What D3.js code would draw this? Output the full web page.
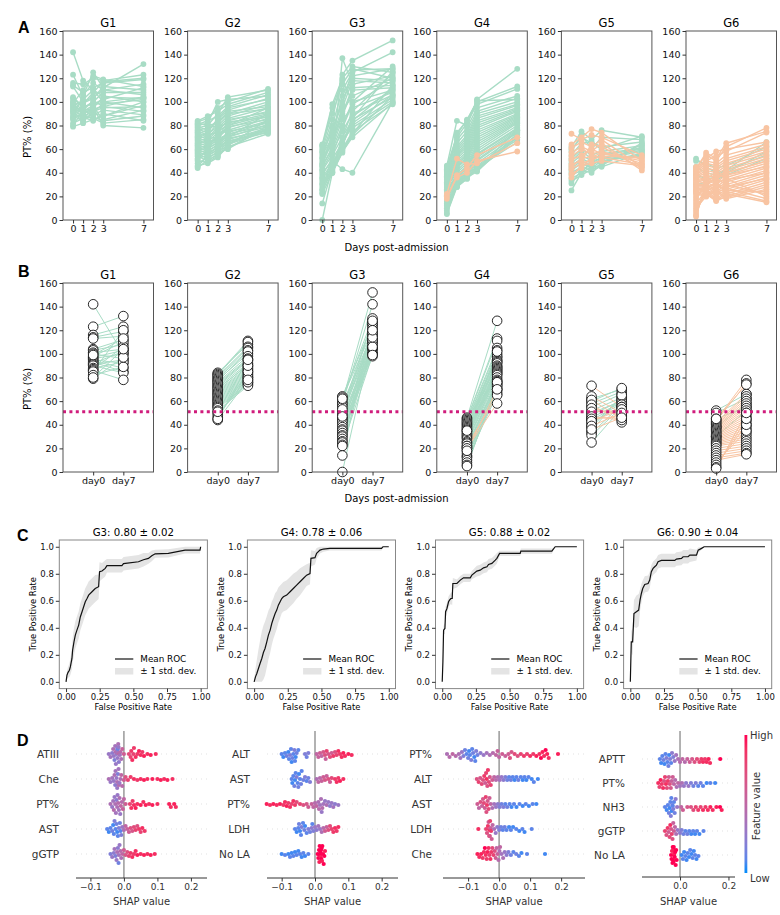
<!DOCTYPE html>
<html><head><meta charset="utf-8">
<script src="https://cdn.jsdelivr.net/npm/d3@7"></script>
<style>body{margin:0;background:#fff}svg{display:block}</style>
</head><body><svg id="c" width="780" height="915"></svg>
<script>
// ---------------- DATA ----------------
const days = [0, 1, 2, 3, 7];
const groupNames = ["G1", "G2", "G3", "G4", "G5", "G6"];
const yTicks = [0, 20, 40, 60, 80, 100, 120, 140, 160];
const bTickLabels = ["day0", "day7"];
const threshold = 51;

const g1Green = [[142,118,110,105,100],[123,105,125,112,132],[116,115,120,118,123],[114,108,112,116,119],[113,100,104,110,115],[104,96,98,102,112],[103,95,100,108,108],[101,92,97,100,104],[100,88,92,95,96],[98,99,103,113,110],[97,92,95,104,103],[96,85,90,88,100],[95,90,94,96,92],[94,94,87,84,88],[93,88,86,82,85],[92,83,92,98,102],[91,102,110,100,95],[90,87,84,90,84],[88,84,96,85,93],[87,106,116,110,106],[86,90,95,80,78],[85,98,108,117,120],[82,86,89,93,89],[79,82,85,88,97],[80,93,101,96,104],[99,110,122,119,113]];
const g1Orange = [];
const g2Green = [[84,88,92,98,108],[83,86,95,100,111],[82,80,90,104,110],[81,84,88,96,106],[80,82,100,102,105],[79,76,85,93,103],[78,80,82,90,100],[77,74,86,95,102],[76,78,80,88,98],[75,72,82,92,96],[74,70,78,86,95],[73,76,84,90,94],[72,68,76,84,92],[71,73,79,82,90],[70,66,74,85,91],[69,71,75,80,89],[68,64,72,78,88],[67,69,70,83,87],[66,62,71,76,86],[65,67,68,79,85],[64,60,66,74,84],[63,65,69,72,83],[62,58,64,75,82],[61,63,67,70,81],[60,56,62,73,80],[59,61,65,71,79],[58,54,60,68,78],[57,59,63,66,77],[56,52,58,69,76],[55,57,61,64,75],[54,50,56,67,74],[52,55,59,62,73],[50,49,54,65,76],[48,53,57,60,80],[46,48,53,63,85],[44,51,55,61,78],[45,55,62,70,90],[51,60,70,80,95]];
const g2Orange = [];
const g3Green = [[64,98,120,130,125],[63,90,115,128,120],[60,85,123,135,152],[58,80,110,125,142],[57,75,100,120,118],[55,70,95,118,116],[52,68,90,112,114],[50,65,88,110,112],[48,72,105,122,128],[46,60,80,100,110],[45,62,85,95,108],[43,58,75,90,106],[42,55,70,85,104],[40,50,43,40,100],[38,52,65,80,102],[36,48,137,115,122],[35,45,68,78,100],[33,42,60,75,98],[31,40,57,72,105],[30,47,62,88,110],[28,44,70,92,124],[26,41,66,84,112],[25,55,78,98,118],[23,46,64,82,106],[22,40,58,70,99],[14,43,63,86,126],[0,40,59,73,114],[62,95,118,100,130],[53,78,98,127,128],[47,67,92,105,120]];
const g3Orange = [];
const g4Green = [[46,84,80,102,128],[45,72,85,100,113],[44,70,82,98,111],[43,68,78,95,105],[42,65,75,92,103],[41,62,72,90,100],[40,60,70,88,98],[39,58,68,86,97],[38,56,66,84,95],[37,55,64,82,94],[36,54,62,80,93],[35,52,60,78,92],[34,50,58,76,90],[33,48,56,74,89],[32,46,55,72,88],[31,45,53,70,87],[30,44,52,68,86],[29,42,50,66,85],[28,40,48,64,84],[26,38,46,62,83],[25,37,45,60,82],[24,36,44,58,80],[22,35,42,56,78],[21,34,41,55,77],[20,33,40,53,76],[18,32,39,51,75],[16,31,38,50,74],[14,30,37,48,72],[13,29,36,46,70],[12,28,35,45,68],[10,32,40,44,66],[8,30,38,42,70],[6,29,36,41,73],[5,28,35,43,76],[35,74,84,101,102]];
const g4Orange = [[22,52,47,48,65],[20,36,40,50,58],[18,38,44,55,70]];
const g5Green = [[62,75,68,76,70],[58,72,60,70,68],[55,65,66,62,66],[52,60,55,58,63],[50,58,52,55,60],[48,55,50,56,61],[46,52,48,53,59],[44,50,46,52,58],[42,48,44,50,56],[40,45,42,48,62],[38,42,40,47,64],[35,40,45,46,65],[33,38,43,45,57],[31,42,47,50,55],[25,40,50,52,54],[60,70,65,60,71]];
const g5Orange = [[73,68,72,70,55],[64,70,77,74,50],[61,66,62,68,45],[57,62,58,65,42],[54,60,56,58,48],[51,55,60,56,52],[47,50,64,62,44],[45,52,54,53,47],[43,48,51,54,53],[39,44,53,57,50],[36,46,48,50,46]];
const g6Green = [[52,45,40,42,66],[50,48,44,46,62],[45,40,38,42,55],[38,35,36,40,58],[30,32,34,38,52]];
const g6Orange = [[44,55,50,62,78],[43,57,52,65,75],[42,52,58,60,66],[41,50,48,55,64],[40,48,46,52,62],[39,46,44,50,60],[38,44,42,48,58],[37,42,40,46,56],[36,40,38,44,54],[35,38,36,42,52],[34,36,34,40,50],[33,35,32,38,48],[32,34,30,36,46],[31,32,28,34,44],[30,30,26,32,42],[29,29,24,30,40],[28,28,22,28,38],[27,26,20,26,36],[26,25,18,24,34],[25,24,17,22,32],[24,22,16,20,30],[23,21,18,19,28],[22,20,25,18,26],[20,28,30,25,24],[18,30,35,30,22],[16,35,40,35,20],[14,25,28,27,18],[12,22,26,24,16],[10,20,24,22,15],[8,24,30,28,35],[6,26,32,34,40],[4,30,36,38,45],[3,32,38,40,50],[45,50,54,58,74]];

// ROC: [fpr, mean tpr, std]
const rocTitles = ["G3: 0.80 ± 0.02", "G4: 0.78 ± 0.06", "G5: 0.88 ± 0.02", "G6: 0.90 ± 0.04"];
const rocG3 = [[0,0,0.02],[0.007,0.05,0.03],[0.015,0.07,0.04],[0.025,0.086,0.05],[0.032,0.11,0.06],[0.044,0.173,0.08],[0.049,0.235,0.09],[0.059,0.296,0.1],[0.069,0.346,0.1],[0.081,0.383,0.1],[0.094,0.42,0.1],[0.106,0.48,0.1],[0.119,0.519,0.1],[0.131,0.556,0.1],[0.143,0.593,0.1],[0.156,0.617,0.1],[0.168,0.642,0.1],[0.193,0.667,0.1],[0.217,0.691,0.1],[0.242,0.704,0.09],[0.249,0.815,0.07],[0.267,0.82,0.06],[0.291,0.84,0.06],[0.304,0.86,0.05],[0.415,0.86,0.05],[0.427,0.875,0.05],[0.538,0.889,0.05],[0.575,0.904,0.05],[0.612,0.914,0.04],[0.637,0.933,0.04],[0.662,0.948,0.03],[0.76,0.951,0.03],[0.884,0.975,0.025],[0.995,0.975,0.025],[1,1,0]];
const rocG4 = [[0,0,0.02],[0.01,0.037,0.06],[0.02,0.062,0.1],[0.032,0.099,0.14],[0.044,0.136,0.17],[0.057,0.173,0.2],[0.069,0.217,0.2],[0.081,0.247,0.2],[0.094,0.296,0.19],[0.106,0.346,0.18],[0.119,0.383,0.17],[0.131,0.432,0.16],[0.143,0.469,0.15],[0.156,0.506,0.15],[0.168,0.531,0.14],[0.18,0.568,0.13],[0.193,0.593,0.12],[0.205,0.617,0.11],[0.217,0.63,0.11],[0.242,0.642,0.11],[0.267,0.667,0.11],[0.291,0.691,0.11],[0.316,0.716,0.1],[0.341,0.741,0.1],[0.365,0.765,0.09],[0.39,0.79,0.08],[0.415,0.802,0.08],[0.422,0.914,0.06],[0.452,0.919,0.05],[0.464,0.951,0.04],[0.489,0.975,0.025],[0.514,0.983,0.02],[0.563,0.988,0.015],[0.946,0.988,0.015],[0.957,1,0],[1,1,0]];
const rocG5 = [[0,0,0.01],[0.005,0.148,0.03],[0.01,0.383,0.03],[0.02,0.395,0.04],[0.025,0.519,0.04],[0.035,0.543,0.04],[0.047,0.593,0.04],[0.054,0.605,0.04],[0.064,0.617,0.04],[0.074,0.617,0.05],[0.079,0.728,0.04],[0.109,0.728,0.03],[0.134,0.753,0.03],[0.158,0.77,0.03],[0.208,0.77,0.03],[0.22,0.79,0.03],[0.257,0.82,0.04],[0.282,0.827,0.04],[0.307,0.844,0.04],[0.332,0.852,0.04],[0.344,0.869,0.04],[0.369,0.877,0.04],[0.394,0.901,0.04],[0.406,0.914,0.04],[0.426,0.951,0.02],[0.579,0.951,0.02],[0.584,0.968,0.02],[0.814,0.968,0.02],[0.839,1,0],[1,1,0]];
const rocG6 = [[0,0,0.01],[0.007,0.296,0.08],[0.017,0.296,0.1],[0.027,0.506,0.1],[0.045,0.519,0.12],[0.062,0.531,0.12],[0.072,0.605,0.08],[0.082,0.654,0.07],[0.092,0.691,0.06],[0.107,0.721,0.06],[0.132,0.728,0.06],[0.144,0.753,0.06],[0.156,0.815,0.05],[0.169,0.84,0.05],[0.181,0.852,0.05],[0.194,0.864,0.05],[0.206,0.889,0.05],[0.231,0.899,0.05],[0.33,0.899,0.05],[0.342,0.909,0.05],[0.38,0.914,0.05],[0.392,0.926,0.05],[0.429,0.926,0.05],[0.442,0.938,0.05],[0.491,0.938,0.04],[0.504,0.975,0.02],[0.529,0.988,0.01],[0.548,1,0],[1,1,0]];
const rocXTicks = [0, 0.25, 0.5, 0.75, 1];
const rocYTicks = [0, 0.2, 0.4, 0.6, 0.8, 1];

// SHAP: features and per-row points [shap value, normalized feature value]
const shapG3Features = ["ATIII", "Che", "PT%", "AST", "gGTP"];
const shapG3 = [
 [[-0.045,0.3],[-0.04,0.35],[-0.035,0.25],[-0.032,0.4],[-0.03,0.3],[-0.028,0.2],[-0.026,0.35],[-0.025,0.45],[-0.024,0.3],[-0.022,0.25],[-0.021,0.4],[-0.02,0.2],[-0.02,0.35],[-0.019,0.3],[-0.018,0.15],[-0.017,0.4],[-0.016,0.3],[-0.015,0.25],[-0.014,0.5],[-0.012,0.35],[-0.01,0.45],[-0.008,0.4],[-0.005,0.55],[0.0,0.6],[0.015,0.75],[0.02,0.8],[0.022,0.85],[0.025,0.9],[0.028,0.8],[0.03,0.85],[0.035,0.9],[0.04,0.85],[0.045,0.95],[0.05,0.9],[0.055,0.85],[0.06,0.95],[0.07,0.9],[0.08,0.95],[0.095,0.9]],
 [[-0.045,0.4],[-0.04,0.3],[-0.035,0.35],[-0.03,0.3],[-0.028,0.4],[-0.026,0.25],[-0.025,0.35],[-0.022,0.3],[-0.02,0.4],[-0.02,0.3],[-0.018,0.2],[-0.016,0.35],[-0.015,0.45],[-0.013,0.3],[-0.01,0.4],[-0.008,0.5],[-0.005,0.45],[0.0,0.6],[0.005,0.7],[0.012,0.8],[0.02,0.85],[0.03,0.9],[0.04,0.85],[0.05,0.9],[0.06,0.95],[0.07,0.9],[0.085,0.95],[0.1,0.9],[0.11,0.95],[0.12,0.9],[0.13,0.95],[0.145,0.9]],
 [[-0.04,0.4],[-0.035,0.3],[-0.032,0.35],[-0.03,0.45],[-0.028,0.3],[-0.026,0.4],[-0.024,0.35],[-0.022,0.25],[-0.02,0.4],[-0.019,0.3],[-0.017,0.45],[-0.015,0.35],[-0.013,0.4],[-0.011,0.3],[-0.009,0.5],[-0.006,0.45],[-0.003,0.55],[0.0,0.5],[0.005,0.6],[0.018,0.8],[0.022,0.9],[0.026,0.85],[0.03,0.9],[0.035,0.95],[0.04,0.9],[0.05,0.95],[0.058,0.9],[0.065,0.95],[0.075,0.9],[0.085,0.95],[0.1,0.9],[0.135,0.95],[0.14,0.9],[0.15,0.95],[0.155,0.9]],
 [[-0.05,0.1],[-0.045,0.05],[-0.04,0.1],[-0.035,0.15],[-0.032,0.05],[-0.03,0.1],[-0.028,0.2],[-0.025,0.1],[-0.022,0.15],[-0.02,0.05],[-0.018,0.1],[-0.015,0.2],[-0.012,0.15],[-0.01,0.1],[-0.008,0.2],[-0.005,0.3],[0.0,0.4],[0.005,0.5],[0.01,0.55],[0.015,0.6],[0.02,0.7],[0.025,0.65],[0.03,0.75],[0.035,0.8],[0.04,0.7],[0.045,0.85],[0.05,0.8],[0.055,0.9],[0.062,0.85]],
 [[-0.04,0.2],[-0.035,0.3],[-0.03,0.25],[-0.028,0.35],[-0.025,0.2],[-0.022,0.3],[-0.02,0.4],[-0.018,0.25],[-0.016,0.15],[-0.015,0.35],[-0.013,0.3],[-0.01,0.45],[-0.008,0.4],[-0.005,0.5],[0.0,0.6],[0.005,0.65],[0.01,0.7],[0.015,0.8],[0.02,0.85],[0.025,0.9],[0.03,0.85],[0.035,0.9],[0.04,0.95],[0.05,0.9],[0.06,0.95],[0.07,0.9],[0.08,0.95],[0.092,0.9]]
];
const shapG4Features = ["ALT", "AST", "PT%", "LDH", "No LA"];
const shapG4 = [
 [[-0.1,0.1],[-0.095,0.05],[-0.09,0.1],[-0.085,0.15],[-0.08,0.05],[-0.078,0.1],[-0.075,0.2],[-0.072,0.1],[-0.07,0.05],[-0.068,0.15],[-0.065,0.1],[-0.062,0.2],[-0.06,0.1],[-0.058,0.05],[-0.055,0.15],[-0.05,0.1],[-0.03,0.2],[-0.025,0.15],[-0.02,0.2],[0.005,0.5],[0.01,0.55],[0.015,0.6],[0.02,0.5],[0.025,0.65],[0.03,0.7],[0.032,0.55],[0.035,0.8],[0.04,0.65],[0.045,0.75],[0.05,0.6],[0.055,0.85],[0.06,0.7],[0.065,0.8],[0.07,0.9],[0.075,0.85],[0.08,0.9],[0.085,0.95],[0.09,0.9],[0.1,0.95],[0.11,0.9]],
 [[-0.07,0.1],[-0.068,0.05],[-0.065,0.1],[-0.062,0.15],[-0.06,0.05],[-0.058,0.1],[-0.055,0.2],[-0.052,0.1],[-0.05,0.15],[-0.048,0.05],[-0.045,0.1],[-0.042,0.15],[-0.04,0.1],[-0.035,0.15],[-0.03,0.2],[-0.025,0.1],[-0.02,0.15],[-0.015,0.2],[0.005,0.4],[0.01,0.5],[0.015,0.45],[0.02,0.55],[0.025,0.6],[0.03,0.65],[0.035,0.55],[0.04,0.7],[0.045,0.6],[0.05,0.75],[0.06,0.85],[0.065,0.9],[0.07,0.85],[0.075,0.95],[0.085,0.9]],
 [[-0.145,0.95],[-0.135,0.9],[-0.125,0.95],[-0.115,0.9],[-0.105,0.95],[-0.095,0.85],[-0.09,0.9],[-0.085,0.95],[-0.08,0.85],[-0.075,0.9],[-0.07,0.8],[-0.065,0.9],[-0.06,0.85],[-0.055,0.75],[-0.045,0.8],[-0.035,0.7],[-0.025,0.65],[-0.02,0.6],[-0.01,0.55],[-0.005,0.5],[0.0,0.45],[0.005,0.5],[0.01,0.4],[0.012,0.45],[0.015,0.35],[0.018,0.4],[0.02,0.3],[0.022,0.45],[0.025,0.35],[0.03,0.3],[0.035,0.4],[0.04,0.3],[0.045,0.25],[0.05,0.3],[0.055,0.35],[0.06,0.25],[0.07,0.3]],
 [[-0.06,0.1],[-0.055,0.05],[-0.05,0.1],[-0.048,0.15],[-0.045,0.05],[-0.042,0.1],[-0.04,0.2],[-0.036,0.1],[-0.032,0.15],[-0.03,0.05],[-0.025,0.1],[-0.02,0.2],[-0.015,0.15],[-0.01,0.25],[-0.008,0.1],[-0.005,0.2],[0.0,0.3],[0.005,0.25],[0.01,0.35],[0.015,0.3],[0.02,0.4],[0.025,0.45],[0.03,0.6],[0.035,0.55],[0.04,0.7],[0.045,0.75],[0.05,0.8],[0.055,0.85],[0.06,0.9],[0.065,0.85],[0.07,0.9]],
 [[-0.1,0.05],[-0.09,0.1],[-0.08,0.05],[-0.075,0.1],[-0.07,0.05],[-0.065,0.1],[-0.06,0.05],[-0.055,0.1],[-0.05,0.05],[-0.045,0.1],[-0.04,0.05],[-0.035,0.1],[-0.03,0.05],[-0.02,0.1],[0.008,1],[0.01,1],[0.012,1],[0.013,0.95],[0.014,1],[0.015,1],[0.016,1],[0.017,0.95],[0.018,1],[0.019,1],[0.02,1],[0.021,0.95],[0.022,1],[0.024,1],[0.026,1],[0.028,1],[0.03,0.95]]
];
const shapG5Features = ["PT%", "ALT", "AST", "LDH", "Che"];
const shapG5 = [
 [[-0.168,0.4],[-0.16,0.45],[-0.15,0.5],[-0.14,0.45],[-0.13,0.4],[-0.125,0.35],[-0.12,0.3],[-0.115,0.2],[-0.11,0.15],[-0.105,0.1],[-0.1,0.15],[-0.097,0.05],[-0.094,0.1],[-0.09,0.2],[-0.087,0.1],[-0.084,0.15],[-0.08,0.05],[-0.077,0.1],[-0.074,0.2],[-0.07,0.15],[-0.06,0.25],[-0.05,0.3],[-0.04,0.35],[-0.03,0.4],[-0.02,0.45],[-0.01,0.5],[-0.005,0.55],[0.0,0.5],[0.01,0.6],[0.02,0.55],[0.03,0.6],[0.035,0.7],[0.04,0.65],[0.05,0.75],[0.06,0.7],[0.07,0.8],[0.08,0.85],[0.09,0.8],[0.1,0.9],[0.11,0.85],[0.12,0.95],[0.13,0.9],[0.135,1],[0.14,0.95],[0.145,0.9],[0.15,1],[0.155,0.95],[0.16,0.9],[0.19,0.95]],
 [[-0.072,0.7],[-0.066,0.8],[-0.061,0.65],[-0.056,0.75],[-0.052,0.7],[-0.048,0.85],[-0.045,0.6],[-0.042,0.8],[-0.04,0.9],[-0.038,0.7],[-0.036,0.85],[-0.033,0.75],[-0.03,0.65],[-0.027,0.8],[-0.022,0.6],[-0.016,0.5],[-0.01,0.45],[-0.004,0.4],[0.002,0.35],[0.008,0.3],[0.014,0.25],[0.02,0.2],[0.026,0.15],[0.032,0.1],[0.038,0.15],[0.044,0.1],[0.05,0.05],[0.056,0.1],[0.062,0.15],[0.07,0.1],[0.076,0.05],[0.082,0.1],[0.088,0.05],[0.095,0.1],[0.105,0.05],[0.112,0.1],[0.125,0.05]],
 [[-0.07,0.6],[-0.065,0.5],[-0.06,0.7],[-0.055,0.55],[-0.052,0.65],[-0.049,0.75],[-0.046,0.6],[-0.043,0.8],[-0.041,0.7],[-0.039,0.85],[-0.037,0.65],[-0.034,0.75],[-0.031,0.6],[-0.027,0.5],[-0.022,0.4],[-0.016,0.35],[-0.01,0.3],[-0.004,0.25],[0.002,0.2],[0.008,0.15],[0.014,0.2],[0.02,0.1],[0.026,0.15],[0.034,0.1],[0.04,0.05],[0.048,0.1],[0.056,0.05],[0.066,0.1],[0.076,0.05],[0.086,0.1],[0.096,0.05],[0.108,0.1],[0.12,0.05]],
 [[-0.067,0.9],[-0.042,0.8],[-0.039,0.7],[-0.036,0.85],[-0.034,0.6],[-0.032,0.75],[-0.031,0.9],[-0.03,0.65],[-0.029,0.8],[-0.028,0.7],[-0.027,0.55],[-0.026,0.85],[-0.024,0.6],[-0.021,0.5],[-0.016,0.4],[-0.011,0.3],[-0.006,0.25],[0.0,0.2],[0.006,0.15],[0.012,0.1],[0.018,0.15],[0.024,0.1],[0.032,0.05],[0.038,0.1],[0.045,0.05],[0.055,0.1],[0.065,0.05],[0.075,0.1],[0.082,0.05],[0.105,0.1]],
 [[-0.07,0.95],[-0.064,0.9],[-0.058,0.95],[-0.053,0.85],[-0.049,0.9],[-0.046,1],[-0.043,0.9],[-0.04,0.85],[-0.037,0.95],[-0.034,0.9],[-0.031,0.8],[-0.028,0.9],[-0.025,0.85],[-0.022,0.75],[-0.018,0.8],[-0.014,0.7],[-0.011,0.6],[-0.008,0.5],[-0.005,0.55],[-0.002,0.45],[0.001,0.4],[0.003,0.5],[0.008,0.35],[0.013,0.4],[0.018,0.3],[0.024,0.25],[0.03,0.2],[0.038,0.15],[0.046,0.1],[0.055,0.15],[0.064,0.1],[0.072,0.05],[0.09,0.1],[0.148,0.05]]
];
const shapG6Features = ["APTT", "PT%", "NH3", "gGTP", "No LA"];
const shapG6 = [
 [[-0.083,0.1],[-0.078,0.05],[-0.073,0.1],[-0.068,0.15],[-0.064,0.05],[-0.06,0.1],[-0.056,0.2],[-0.052,0.1],[-0.048,0.15],[-0.045,0.05],[-0.041,0.2],[-0.037,0.1],[-0.033,0.25],[-0.028,0.2],[-0.022,0.3],[-0.016,0.35],[-0.008,0.4],[0.0,0.45],[0.01,0.5],[0.02,0.45],[0.03,0.55],[0.04,0.6],[0.05,0.65],[0.06,0.7],[0.07,0.75],[0.08,0.8],[0.088,0.85],[0.095,0.9],[0.103,0.85],[0.11,0.9],[0.118,0.95],[0.124,0.9],[0.166,1]],
 [[-0.09,0.9],[-0.085,0.8],[-0.08,0.95],[-0.075,0.85],[-0.07,0.9],[-0.066,0.7],[-0.062,0.8],[-0.058,0.9],[-0.054,0.75],[-0.05,0.85],[-0.046,0.6],[-0.042,0.7],[-0.038,0.65],[-0.034,0.55],[-0.03,0.6],[-0.025,0.5],[-0.02,0.45],[-0.014,0.4],[-0.008,0.5],[0.0,0.35],[0.008,0.4],[0.016,0.3],[0.025,0.25],[0.035,0.3],[0.045,0.2],[0.055,0.15],[0.065,0.2],[0.075,0.1],[0.085,0.15],[0.095,0.1],[0.11,0.05],[0.125,0.1],[0.145,0.05]],
 [[-0.062,0.1],[-0.055,0.05],[-0.05,0.1],[-0.046,0.15],[-0.043,0.05],[-0.04,0.1],[-0.038,0.2],[-0.036,0.1],[-0.034,0.05],[-0.032,0.15],[-0.03,0.1],[-0.028,0.2],[-0.025,0.1],[-0.022,0.15],[-0.018,0.25],[-0.012,0.3],[0.005,0.5],[0.012,0.6],[0.03,0.65],[0.045,0.7],[0.055,0.75],[0.065,0.8],[0.075,0.85],[0.085,0.8],[0.095,0.9],[0.105,0.85],[0.115,0.9],[0.125,0.95],[0.135,0.9],[0.15,0.95],[0.165,1],[0.172,0.95]],
 [[-0.062,0.8],[-0.056,0.7],[-0.051,0.85],[-0.047,0.6],[-0.043,0.75],[-0.04,0.9],[-0.037,0.65],[-0.034,0.8],[-0.031,0.7],[-0.028,0.55],[-0.025,0.6],[-0.021,0.5],[-0.016,0.4],[-0.01,0.3],[0.0,0.25],[0.007,0.2],[0.014,0.15],[0.022,0.1],[0.03,0.15],[0.038,0.1],[0.046,0.05],[0.054,0.1],[0.062,0.05],[0.07,0.1],[0.08,0.05],[0.097,0.1]],
 [[-0.037,1],[-0.035,1],[-0.033,0.95],[-0.031,1],[-0.03,1],[-0.029,1],[-0.028,0.95],[-0.027,1],[-0.026,1],[-0.025,1],[-0.024,0.95],[-0.022,1],[-0.02,1],[-0.018,1],[-0.016,1],[-0.014,1],[0.007,0.05],[0.012,0.1],[0.017,0.05],[0.022,0.1],[0.027,0.05],[0.032,0.1],[0.037,0.05],[0.042,0.1],[0.047,0.05],[0.052,0.1],[0.057,0.05],[0.062,0.1],[0.068,0.05],[0.076,0.1]]
];
const shapTicksWide = [-0.1, 0, 0.1, 0.2];
const shapTicksNarrow = [0, 0.2];

// ---------------- DRAWING ----------------
const FONT = "DejaVu Sans, sans-serif";
const svg = d3.select("#c").attr("font-family", FONT);
const green = "#a8dcc5", orange = "#f8c4a2";
const groupData = [[g1Green,g1Orange],[g2Green,g2Orange],[g3Green,g3Orange],[g4Green,g4Orange],[g5Green,g5Orange],[g6Green,g6Orange]];
const aLefts = d3.range(6).map(i => 63 + i * 124.6);
const panW = 90.5;

function styleAxis(sel, fs) {
  sel.attr("font-family", FONT);
  sel.select(".domain").remove();
  sel.selectAll(".tick line").attr("stroke", "#333");
  sel.selectAll(".tick text").attr("font-size", fs).attr("fill", "#111");
}
function letter(t, x, y) {
  svg.append("text").attr("x", x).attr("y", y).attr("font-family", "Liberation Sans, Arial, sans-serif")
    .attr("font-weight", "bold").attr("font-size", 16).text(t);
}

// Panel A
letter("A", 18, 32.5);
groupNames.forEach((name, i) => {
  const g = svg.append("g").attr("transform", `translate(${aLefts[i]},0)`);
  const x = d3.scaleLinear().domain([-1, 8]).range([0, panW]);
  const y = d3.scaleLinear().domain([0, 160]).range([220, 31]);
  const line = d3.line().x((d, j) => x(days[j])).y(d => y(d));
  const [gr, or] = groupData[i];
  [[gr, green], [or, orange]].forEach(([set, col]) => {
    g.append("g").selectAll("path").data(set).join("path").attr("d", line)
      .attr("fill", "none").attr("stroke", col).attr("stroke-width", 1.4);
    g.append("g").selectAll("circle").data(set.flatMap(s => s.map((v, j) => [days[j], v]))).join("circle")
      .attr("cx", d => x(d[0])).attr("cy", d => y(d[1])).attr("r", 2.9).attr("fill", col);
  });
  g.append("rect").attr("x", 0).attr("y", 31).attr("width", panW).attr("height", 189)
    .attr("fill", "none").attr("stroke", "#555").attr("stroke-width", 1);
  const ya = g.append("g").call(d3.axisLeft(y).tickValues(yTicks).tickSize(3.5).tickPadding(2));
  styleAxis(ya, 9.5);
  const xa = g.append("g").attr("transform", "translate(0,220)").call(d3.axisBottom(x).tickValues(days).tickSize(3.5).tickPadding(2));
  styleAxis(xa, 9.5);
  g.append("text").attr("x", panW / 2).attr("y", 27).attr("text-anchor", "middle").attr("font-size", 11.5).text(name);
});
svg.append("text").attr("transform", "translate(31,137) rotate(-90)").attr("text-anchor", "middle").attr("font-size", 10).text("PT% (%)");
svg.append("text").attr("x", 396.5).attr("y", 251).attr("text-anchor", "middle").attr("font-size", 10).text("Days post-admission");

// Panel B
letter("B", 18, 277);
groupNames.forEach((name, i) => {
  const g = svg.append("g").attr("transform", `translate(${aLefts[i]},0)`);
  const x = d3.scaleLinear().domain([-1, 2]).range([0, panW]);
  const y = d3.scaleLinear().domain([0, 160]).range([472, 283]);
  const [gr, or] = groupData[i];
  [[gr, green], [or, orange]].forEach(([set, col]) => {
    g.append("g").selectAll("line").data(set).join("line")
      .attr("x1", x(0)).attr("x2", x(1)).attr("y1", d => y(d[0])).attr("y2", d => y(d[d.length - 1]))
      .attr("stroke", col).attr("stroke-width", 1);
  });
  const all = gr.concat(or);
  const pts = all.flatMap(s => [[0, s[0]], [1, s[s.length - 1]]]);
  g.append("g").selectAll("circle").data(pts).join("circle")
    .attr("cx", d => x(d[0])).attr("cy", d => y(d[1])).attr("r", 4.8)
    .attr("fill", "#fff").attr("stroke", "#111").attr("stroke-width", 0.9);
  g.append("line").attr("x1", 0).attr("x2", panW).attr("y1", y(threshold)).attr("y2", y(threshold))
    .attr("stroke", "#d01c7c").attr("stroke-width", 3).attr("stroke-dasharray", "3,3.4");
  g.append("rect").attr("x", 0).attr("y", 283).attr("width", panW).attr("height", 189)
    .attr("fill", "none").attr("stroke", "#555").attr("stroke-width", 1);
  const ya = g.append("g").call(d3.axisLeft(y).tickValues(yTicks).tickSize(3.5).tickPadding(2));
  styleAxis(ya, 9.5);
  const xa = g.append("g").attr("transform", "translate(0,472)")
    .call(d3.axisBottom(x).tickValues([0, 1]).tickFormat((d, k) => bTickLabels[k]).tickSize(3.5).tickPadding(2));
  styleAxis(xa, 9.5);
  g.append("text").attr("x", panW / 2).attr("y", 279).attr("text-anchor", "middle").attr("font-size", 11.5).text(name);
});
svg.append("text").attr("transform", "translate(31,389) rotate(-90)").attr("text-anchor", "middle").attr("font-size", 10).text("PT% (%)");
svg.append("text").attr("x", 396.5).attr("y", 502).attr("text-anchor", "middle").attr("font-size", 10).text("Days post-admission");

// Panel C
letter("C", 17, 541);
const rocSets = [rocG3, rocG4, rocG5, rocG6];
const cLefts = d3.range(4).map(i => 59.3 + i * 188.1);
const cW = 148.1, cTop = 540, cBot = 688.6;
rocSets.forEach((roc, i) => {
  const g = svg.append("g").attr("transform", `translate(${cLefts[i]},0)`);
  const x = d3.scaleLinear().domain([-0.05, 1.05]).range([0, cW]);
  const y = d3.scaleLinear().domain([-0.05, 1.05]).range([cBot, cTop]);
  const area = d3.area().x(d => x(d[0])).y0(d => y(Math.max(0, d[1] - d[2]))).y1(d => y(Math.min(1, d[1] + d[2])));
  g.append("path").datum(roc).attr("d", area).attr("fill", "#e4e4e4");
  g.append("path").datum(roc).attr("d", d3.line().x(d => x(d[0])).y(d => y(d[1])))
    .attr("fill", "none").attr("stroke", "#111").attr("stroke-width", 1.2);
  g.append("rect").attr("x", 0).attr("y", cTop).attr("width", cW).attr("height", cBot - cTop)
    .attr("fill", "none").attr("stroke", "#888").attr("stroke-width", 1);
  const ya = g.append("g").call(d3.axisLeft(y).tickValues(rocYTicks).tickFormat(d3.format(".1f")).tickSize(3.5).tickPadding(2));
  styleAxis(ya, 8.5);
  const xa = g.append("g").attr("transform", `translate(0,${cBot})`)
    .call(d3.axisBottom(x).tickValues(rocXTicks).tickFormat(d3.format(".2f")).tickSize(3.5).tickPadding(2));
  styleAxis(xa, 8.5);
  g.append("text").attr("x", cW / 2).attr("y", 536).attr("text-anchor", "middle").attr("font-size", 10.2).text(rocTitles[i]);
  g.append("text").attr("x", cW / 2).attr("y", 709.5).attr("text-anchor", "middle").attr("font-size", 8.4).text("False Positive Rate");
  g.append("text").attr("transform", `translate(-23.5,${(cTop + cBot) / 2}) rotate(-90)`).attr("text-anchor", "middle").attr("font-size", 8.4).text("True Positive Rate");
  // legend
  g.append("line").attr("x1", 55.7).attr("x2", 74).attr("y1", 659).attr("y2", 659).attr("stroke", "#111").attr("stroke-width", 1.2);
  g.append("text").attr("x", 81).attr("y", 662).attr("font-size", 8.8).text("Mean ROC");
  g.append("rect").attr("x", 55.7).attr("y", 668).attr("width", 18.3).attr("height", 6.5).attr("fill", "#e4e4e4");
  g.append("text").attr("x", 81).attr("y", 674.3).attr("font-size", 8.8).text("± 1 std. dev.");
});

// Panel D
letter("D", 17, 746);
const shapColor = d3.interpolateLab("#008bfb", "#ff0052");
const shapPlots = [
  {feat: shapG3Features, rows: shapG3, range: [76, 207], domain: [-0.143, 0.248], labelX: 59, rowY: [754, 779, 804, 829, 854], axisY: 878, ticks: shapTicksWide},
  {feat: shapG4Features, rows: shapG4, range: [267, 398], domain: [-0.144, 0.249], labelX: 250, rowY: [754, 779, 804, 829, 854], axisY: 878, ticks: shapTicksWide},
  {feat: shapG5Features, rows: shapG5, range: [443, 585], domain: [-0.181, 0.277], labelX: 432, rowY: [754, 779, 804, 829, 854], axisY: 878, ticks: shapTicksWide},
  {feat: shapG6Features, rows: shapG6, range: [642, 735], domain: [-0.157, 0.227], labelX: 625, rowY: [759, 783, 807, 831, 855], axisY: 877, ticks: shapTicksNarrow}
];
function swarm(pts, xs, cy) {
  const dist = 3.4, step = 1.0, maxOff = 10;
  const items = pts.map(p => ({px: xs(p[0]), v: p[1]})).sort((a, b) => a.px - b.px);
  const placed = [];
  items.forEach((it, n) => {
    let best = null;
    for (let k = 0; k < 40; k++) {
      const off = k === 0 ? 0 : (k % 2 === 1 ? 1 : -1) * Math.ceil(k / 2) * step;
      if (Math.abs(off) > maxOff) break;
      const ok = placed.every(q => { const dx = q.px - it.px, dy = q.off - off; return dx * dx + dy * dy >= dist * dist; });
      if (ok) { best = off; break; }
    }
    if (best === null) best = (n % 2 ? 1 : -1) * (n % 9);
    it.off = best; placed.push(it);
  });
  return items.map(it => ({x: it.px, y: cy + it.off, v: it.v}));
}
shapPlots.forEach(p => {
  const g = svg.append("g");
  const x = d3.scaleLinear().domain(p.domain).range(p.range);
  p.rowY.forEach(ry => g.append("line").attr("x1", p.range[0]).attr("x2", p.range[1]).attr("y1", ry).attr("y2", ry)
    .attr("stroke", "#cccccc").attr("stroke-width", 0.6).attr("stroke-dasharray", "1,4"));
  g.append("line").attr("x1", x(0)).attr("x2", x(0)).attr("y1", 731).attr("y2", p.axisY)
    .attr("stroke", "#999").attr("stroke-width", 1.5);
  p.rows.forEach((row, r) => {
    const dots = swarm(row, x, p.rowY[r]);
    g.append("g").selectAll("circle").data(dots).join("circle")
      .attr("cx", d => d.x).attr("cy", d => d.y).attr("r", 2.1).attr("fill", d => shapColor(d.v));
    g.append("text").attr("x", p.labelX).attr("y", p.rowY[r] + 4).attr("text-anchor", "end")
      .attr("font-size", 10.5).attr("fill", "#333").text(p.feat[r]);
  });
  g.append("line").attr("x1", p.range[0]).attr("x2", p.range[1]).attr("y1", p.axisY).attr("y2", p.axisY)
    .attr("stroke", "#333").attr("stroke-width", 1);
  const xa = g.append("g").attr("transform", `translate(0,${p.axisY})`)
    .call(d3.axisBottom(x).tickValues(p.ticks).tickFormat(d3.format(".1f")).tickSize(3.5).tickPadding(2));
  styleAxis(xa, 9);
  xa.selectAll(".tick text").attr("fill", "#333");
  g.append("text").attr("x", (p.range[0] + p.range[1]) / 2).attr("y", 905).attr("text-anchor", "middle")
    .attr("font-size", 10).attr("fill", "#333").text("SHAP value");
});
// colorbar
const defs = svg.append("defs");
const grad = defs.append("linearGradient").attr("id", "cb").attr("x1", 0).attr("y1", 1).attr("x2", 0).attr("y2", 0);
d3.range(0, 1.01, 0.1).forEach(t => grad.append("stop").attr("offset", t).attr("stop-color", shapColor(t)));
svg.append("rect").attr("x", 744.5).attr("y", 735).attr("width", 2.8).attr("height", 138).attr("fill", "url(#cb)");
svg.append("text").attr("x", 750).attr("y", 739).attr("font-size", 10).attr("fill", "#333").text("High");
svg.append("text").attr("x", 750).attr("y", 882).attr("font-size", 10).attr("fill", "#333").text("Low");
svg.append("text").attr("transform", "translate(760,806) rotate(-90)").attr("text-anchor", "middle")
  .attr("font-size", 10).attr("fill", "#333").text("Feature value");
</script></body></html>
